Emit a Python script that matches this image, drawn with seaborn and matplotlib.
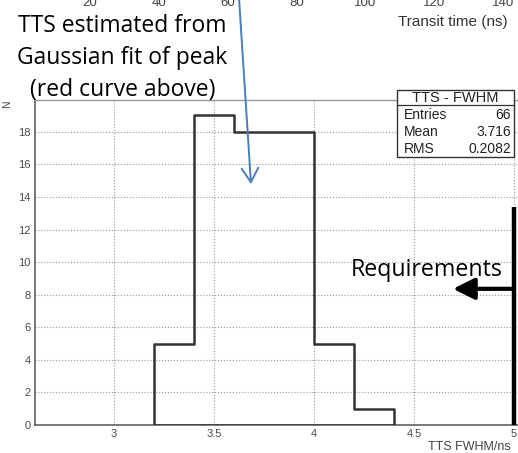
import matplotlib
matplotlib.use("Agg")
import matplotlib.pyplot as plt
from matplotlib.patches import Rectangle
from matplotlib.lines import Line2D
from matplotlib.ticker import MultipleLocator
import seaborn as sns
import pandas as pd

# TTS FWHM histogram (ns)
bin_edges = [3.2, 3.4, 3.6, 3.8, 4.0, 4.2, 4.4]
counts = [5, 19, 18, 18, 5, 1]
x_ticks = [3, 3.5, 4, 4.5, 5]
y_ticks = [0, 2, 4, 6, 8, 10, 12, 14, 16, 18]
upper_ticks = [20, 40, 60, 80, 100, 120, 140]
stats_title = "TTS - FWHM"
stats_names = ["Entries", "Mean", "RMS"]
stats_values = ["66", "3.716", "0.2082"]
requirement_max = 5.0

W, H = 518, 453
sns.set_style("white")
plt.rcParams["font.family"] = ["Liberation Sans", "DejaVu Sans"]

fig = plt.figure(figsize=(W / 100, H / 100), dpi=100)


def px(x0, y0, w, h):
    return [x0 / W, 1 - (y0 + h) / H, w / W, h / H]


def fx(x):
    return x / W


def fy(y):
    return 1 - y / H


ax = fig.add_axes(px(35, 100, 483, 325))
centers = [(a + b) / 2 for a, b in zip(bin_edges[:-1], bin_edges[1:])]
df = pd.DataFrame({"fwhm": centers, "n": counts})
# outline-only step histogram, closed down to zero at both ends
sns.histplot(data=df, x="fwhm", weights="n", bins=bin_edges, element="step",
             fill=True, color="#333333", facecolor="none",
             edgecolor="#333333", linewidth=1.8, ax=ax, zorder=3)

ax.set_xlim(2.605, 5.02)
ax.set_ylim(0, 19.95)
ax.set_xlabel("")
ax.set_ylabel("")
ax.set_xticks(x_ticks)
ax.set_xticklabels([f"{t:g}" for t in x_ticks])
ax.set_yticks(y_ticks)
ax.xaxis.set_minor_locator(MultipleLocator(0.1))
ax.yaxis.set_minor_locator(MultipleLocator(0.5))
ax.tick_params(which="major", direction="in", length=7, width=1.1,
               color="#555555", labelcolor="#4a4a4a", labelsize=8, pad=3)
ax.tick_params(which="minor", direction="in", length=4, width=0.9,
               color="#666666")
ax.grid(True, which="major", ls=":", color="#9a9a9a", lw=0.8)
ax.set_axisbelow(True)
for side in ("left", "bottom"):
    ax.spines[side].set_color("#555555")
    ax.spines[side].set_linewidth(1.1)
ax.spines["top"].set_color("#999999")
ax.spines["top"].set_linewidth(1.0)
ax.spines["right"].set_visible(False)

# requirement limit and arrow
ax.plot([requirement_max, requirement_max], [0, 13.4], color="black", lw=3.2,
        solid_capstyle="butt", clip_on=False, zorder=5)
ax.annotate("", xy=(4.695, 8.36), xytext=(requirement_max, 8.36),
            arrowprops=dict(arrowstyle="-|>,head_length=1.3,head_width=0.65",
                            color="black", lw=3.0, shrinkA=0, shrinkB=0,
                            mutation_scale=10), zorder=5)
ax.text(4.5625, 9.15, "Requirements", ha="center", va="baseline",
        fontsize=16.7, family=["Open Sans", "DejaVu Sans"], color="black")

fig.text(fx(511), fy(447), "TTS FWHM/ns", ha="right", va="center",
         fontsize=9, color="#444444")
fig.text(fx(7), fy(104), "N", ha="center", va="center", rotation=90,
         fontsize=7.5, color="#444444")

# statistics box
fig.add_artist(Rectangle((fx(397), fy(157)), (514 - 397) / W, (157 - 90) / H,
                         transform=fig.transFigure, facecolor="white",
                         edgecolor="#333333", lw=1.0, zorder=6))
fig.add_artist(Line2D([fx(397), fx(514)], [fy(105), fy(105)],
                      transform=fig.transFigure, color="#333333", lw=0.9,
                      zorder=7))
fig.text(fx(455.5), fy(97.5), stats_title, ha="center", va="center",
         fontsize=10.5, color="#222222", zorder=8)
for i, (name, val) in enumerate(zip(stats_names, stats_values)):
    yy = fy(115 + 16.8 * i)
    fig.text(fx(404), yy, name, ha="left", va="center", fontsize=10,
             color="#222222", zorder=8)
    fig.text(fx(511), yy, val, ha="right", va="center", fontsize=10,
             color="#222222", zorder=8)

# axis remnants of the transit time plot above
ax_top = fig.add_axes(px(21.2, -11, 516, 5))
ax_top.set_xlim(0, 150)
ax_top.set_xticks(upper_ticks)
ax_top.set_yticks([])
ax_top.tick_params(axis="x", length=0, pad=2, labelsize=9.5,
                   labelcolor="#444444")
for s in ax_top.spines.values():
    s.set_visible(False)
ax_top.patch.set_visible(False)
fig.text(fx(508), fy(22), "Transit time (ns)", ha="right", va="center",
         fontsize=11, color="#333333")

# callout text with arrow
note_lines = ["TTS estimated from", "Gaussian fit of peak", "(red curve above)"]
for i, line in enumerate(note_lines):
    fig.text(fx(122.5), fy(31.5 + 32 * i), line, ha="center", va="baseline",
             fontsize=16.5, family=["Open Sans", "DejaVu Sans"], color="black",
             zorder=9)
ax.annotate("", xy=(251, H - 184), xytext=(239, H + 2),
            xycoords="figure pixels", textcoords="figure pixels",
            arrowprops=dict(arrowstyle="->,head_length=1.0,head_width=0.6",
                            color="#4a7ebb", lw=1.4, shrinkA=0, shrinkB=0,
                            mutation_scale=10), annotation_clip=False)

fig.savefig("out.png", dpi=100)
